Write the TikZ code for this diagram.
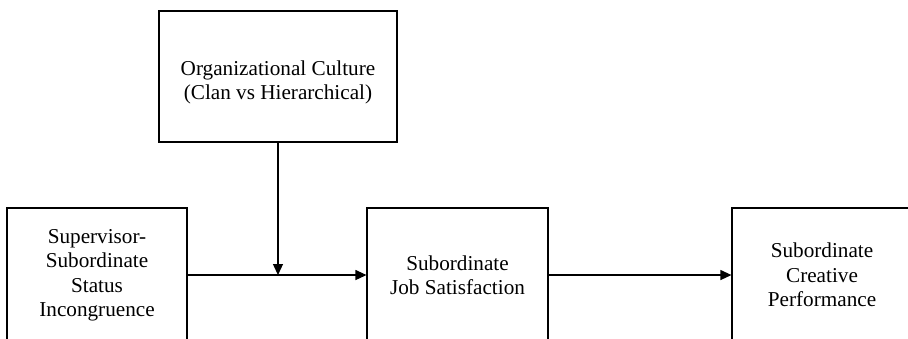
\documentclass[tikz,border=0pt]{standalone}
\usepackage{fontspec}
\setmainfont{Liberation Serif}
\usepackage{tikz}
\usetikzlibrary{arrows.meta}

\begin{document}
\begin{tikzpicture}[>={Triangle[length=5.5pt,width=5pt]}, line width=0.6pt]

      \clip (0,0) rectangle (15.956,-5.957);

      \begin{scope}[every node/.style={draw,align=center,inner sep=0pt,
          font=\fontsize{10.6}{12.25}\selectfont}]
        \node[minimum width=4.182cm, minimum height=2.302cm] (org) at (4.885,-1.344)
          {\rule{0pt}{13.3pt}Organizational Culture\\(Clan vs Hierarchical)};
        \node[minimum width=3.163cm, minimum height=2.355cm] (sup) at (1.705,-4.833)
          {Supervisor-\\Subordinate\\Status\\Incongruence};
        \node[minimum width=3.18cm, minimum height=2.355cm] (sat) at (8.040,-4.833)
          {Subordinate\\Job Satisfaction};
        \node[minimum width=3.163cm, minimum height=2.355cm] (perf) at (14.445,-4.833)
          {Subordinate\\Creative\\Performance};
      \end{scope}

      \coordinate (join) at (org.south |- sup.east);

      \begin{scope}
        \path [->] (sup) edge (sat);
        \path [->] (sat) edge (perf);
        \path [->] (org) edge (join);
      \end{scope}
    \end{tikzpicture}
\end{document}
